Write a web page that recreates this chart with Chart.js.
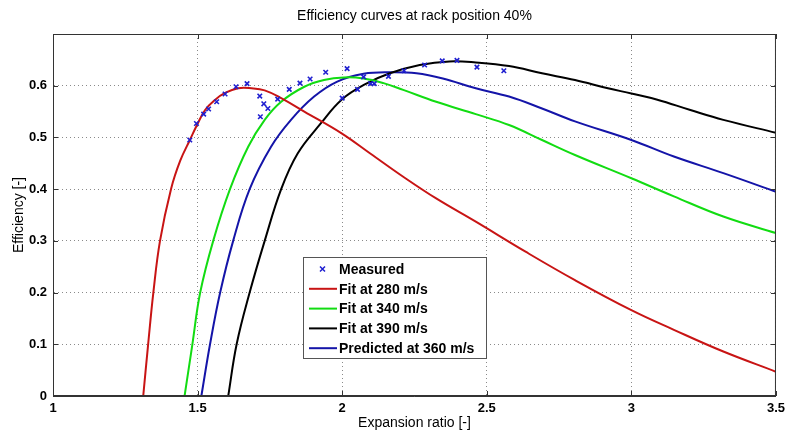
<!DOCTYPE html>
<html>
<head>
<meta charset="utf-8">
<script src="https://cdn.jsdelivr.net/npm/chart.js@4.4.0/dist/chart.umd.min.js"></script>
<style>
    html, body { margin: 0; padding: 0; background: #fff; }
</style>
</head>
<body>
<canvas id="grafico" width="790" height="436"></canvas>
<script>
// dados
var titulo = 'Efficiency curves at rack position 40%';
var tituloX = 'Expansion ratio [-]';
var tituloY = 'Efficiency [-]';

var ticksX = [1, 1.5, 2, 2.5, 3, 3.5];
var ticksY = [0, 0.1, 0.2, 0.3, 0.4, 0.5, 0.6];

var medidoX = [1.473, 1.496, 1.521, 1.538, 1.566, 1.595, 1.633, 1.671, 1.715, 1.729, 1.743, 1.717, 1.777, 1.817, 1.854,
               1.889, 1.943, 2.017, 2.000, 2.053, 2.074, 2.098, 2.111, 2.160, 2.214, 2.285, 2.346, 2.397, 2.466, 2.559];
var medidoY = [0.495, 0.527, 0.545, 0.555, 0.569, 0.584, 0.598, 0.604, 0.580, 0.565, 0.556, 0.540, 0.574, 0.593, 0.605,
               0.613, 0.626, 0.633, 0.576, 0.593, 0.617, 0.604, 0.604, 0.618, 0.629, 0.640, 0.648, 0.649, 0.636, 0.629];

var fit280X = [1.312, 1.329, 1.347, 1.370, 1.408, 1.440, 1.475, 1.498, 1.526, 1.561, 1.595, 1.640, 1.686, 1.732, 1.789,
               1.869, 1.998, 2.097, 2.211, 2.325, 2.462, 2.634, 2.805, 3.0, 3.147, 3.318, 3.5];
var fit280Y = [0, 0.1, 0.2, 0.3, 0.4, 0.455, 0.497, 0.524, 0.553, 0.573, 0.586, 0.595, 0.595, 0.591, 0.576,
               0.550, 0.508, 0.469, 0.424, 0.382, 0.337, 0.279, 0.224, 0.166, 0.128, 0.086, 0.047];

var fit340X = [1.455, 1.482, 1.509, 1.554, 1.612, 1.675, 1.732, 1.789, 1.869, 1.937, 2.006, 2.074, 2.143, 2.211, 2.325,
               2.462, 2.577, 2.691, 2.805, 3.0, 3.147, 3.318, 3.5];
var fit340Y = [0, 0.1, 0.2, 0.3, 0.4, 0.482, 0.534, 0.569, 0.598, 0.611, 0.616, 0.614, 0.605, 0.592, 0.569,
               0.545, 0.524, 0.495, 0.466, 0.421, 0.386, 0.347, 0.315];

var fit390X = [1.606, 1.635, 1.680, 1.732, 1.789, 1.846, 1.926, 1.998, 2.080, 2.165, 2.268, 2.371, 2.462, 2.577, 2.691,
               2.805, 2.919, 3.0, 3.09, 3.204, 3.318, 3.5];
var fit390Y = [0, 0.1, 0.2, 0.3, 0.4, 0.469, 0.527, 0.573, 0.603, 0.624, 0.640, 0.647, 0.645, 0.638, 0.624,
               0.611, 0.595, 0.585, 0.573, 0.553, 0.534, 0.509];

var pred360X = [1.513, 1.543, 1.578, 1.623, 1.680, 1.754, 1.823, 1.903, 1.983, 2.074, 2.165, 2.257, 2.348, 2.462, 2.577,
                2.691, 2.805, 3.0, 3.147, 3.318, 3.5];
var pred360Y = [0, 0.1, 0.2, 0.3, 0.4, 0.482, 0.534, 0.579, 0.608, 0.623, 0.626, 0.624, 0.614, 0.595, 0.579,
                0.556, 0.531, 0.495, 0.463, 0.431, 0.395];

var fonte = "'Liberation Sans', Arial, sans-serif";

function pares(xs, ys) {
    return xs.map(function (x, i) { return { x: x, y: ys[i] }; });
}

function curva(label, xs, ys, cor) {
    return {
        label: label,
        data: pares(xs, ys),
        showLine: true,
        borderColor: cor,
        backgroundColor: cor,
        borderWidth: 2,
        pointRadius: 0,
        tension: 0.4
    };
}

// moldura estilo matlab: titulo, caixa, ticks internos e legenda
var moldura = {
    id: 'moldura',
    afterDraw: function (chart) {
        var c = chart.ctx, a = chart.chartArea;
        var sx = chart.scales.x, sy = chart.scales.y;

        c.save();
        c.fillStyle = '#000';
        c.font = '14px ' + fonte;
        c.textAlign = 'center';
        c.textBaseline = 'middle';
        c.fillText(titulo, (a.left + a.right) / 2, 16);

        c.strokeStyle = '#333';
        c.lineWidth = 1;
        c.strokeRect(a.left + 0.5, a.top + 0.5, a.right - a.left - 1, a.bottom - a.top - 1);

        c.beginPath();
        ticksX.forEach(function (v) {
            var px = Math.round(sx.getPixelForValue(v)) + 0.5;
            c.moveTo(px, a.bottom); c.lineTo(px, a.bottom - 5);
            c.moveTo(px, a.top); c.lineTo(px, a.top + 5);
        });
        ticksY.forEach(function (v) {
            var py = Math.round(sy.getPixelForValue(v)) + 0.5;
            c.moveTo(a.left, py); c.lineTo(a.left + 5, py);
            c.moveTo(a.right, py); c.lineTo(a.right - 5, py);
        });
        c.stroke();

        // legenda dentro da area
        var lx = a.left + 250, ly = a.top + 223, lw = 183, lh = 101;
        c.fillStyle = '#fff';
        c.fillRect(lx, ly, lw, lh);
        c.strokeStyle = '#555';
        c.strokeRect(lx + 0.5, ly + 0.5, lw, lh);

        c.font = 'bold 14px ' + fonte;
        c.textAlign = 'left';
        chart.data.datasets.forEach(function (ds, i) {
            var yy = ly + 12 + i * 19.8;
            if (ds.showLine) {
                c.strokeStyle = ds.borderColor;
                c.lineWidth = 2;
                c.beginPath();
                c.moveTo(lx + 6, yy); c.lineTo(lx + 34, yy);
                c.stroke();
            } else {
                c.strokeStyle = ds.borderColor;
                c.lineWidth = 1.5;
                c.beginPath();
                c.moveTo(lx + 17, yy - 2.5); c.lineTo(lx + 22, yy + 2.5);
                c.moveTo(lx + 22, yy - 2.5); c.lineTo(lx + 17, yy + 2.5);
                c.stroke();
            }
            c.fillStyle = '#000';
            c.fillText(ds.label, lx + 36, yy + 1);
        });
        c.restore();
    }
};

var ctx = document.getElementById('grafico').getContext('2d');

new Chart(ctx, {
    type: 'scatter',
    data: {
        datasets: [
            {
                label: 'Measured',
                data: pares(medidoX, medidoY),
                pointStyle: 'crossRot',
                pointRadius: 3.2,
                borderWidth: 1.6,
                borderColor: '#1f1fd0',
                backgroundColor: '#1f1fd0'
            },
            curva('Fit at 280 m/s', fit280X, fit280Y, '#c81414'),
            curva('Fit at 340 m/s', fit340X, fit340Y, '#12dc12'),
            curva('Fit at 390 m/s', fit390X, fit390Y, '#000000'),
            curva('Predicted at 360 m/s', pred360X, pred360Y, '#1414a8')
        ]
    },
    options: {
        responsive: false,
        animation: false,
        layout: { padding: { top: 34, right: 7, left: 0, bottom: 0 } },
        plugins: {
            legend: { display: false },
            title: { display: false },
            tooltip: { enabled: false }
        },
        scales: {
            x: {
                type: 'linear',
                min: 1,
                max: 3.5,
                afterBuildTicks: function (escala) {
                    escala.ticks = ticksX.map(function (v) { return { value: v }; });
                },
                afterFit: function (escala) { escala.height = 40; },
                ticks: {
                    autoSkip: false,
                    maxRotation: 0,
                    padding: 5,
                    color: '#000',
                    font: { family: fonte, size: 13, weight: 'bold' },
                    callback: function (v) { return String(v); }
                },
                grid: { color: '#8a8a8a', lineWidth: 1, drawTicks: false },
                border: { display: true, color: '#333', dash: [1, 3] },
                title: {
                    display: true,
                    text: tituloX,
                    color: '#000',
                    font: { family: fonte, size: 14 },
                    padding: { top: 0, bottom: 4 }
                }
            },
            y: {
                min: 0,
                max: 0.7,
                afterBuildTicks: function (escala) {
                    escala.ticks = ticksY.map(function (v) { return { value: v }; });
                },
                afterFit: function (escala) { escala.width = 53; },
                ticks: {
                    padding: 6,
                    color: '#000',
                    font: { family: fonte, size: 13, weight: 'bold' },
                    callback: function (v) { return v === 0 ? '0' : v.toFixed(1); }
                },
                grid: { color: '#8a8a8a', lineWidth: 1, drawTicks: false },
                border: { display: true, color: '#333', dash: [1, 3] },
                title: {
                    display: true,
                    text: tituloY,
                    color: '#000',
                    font: { family: fonte, size: 14 },
                    padding: { top: 11, bottom: 0 }
                }
            }
        }
    },
    plugins: [moldura]
});
</script>
</body>
</html>
